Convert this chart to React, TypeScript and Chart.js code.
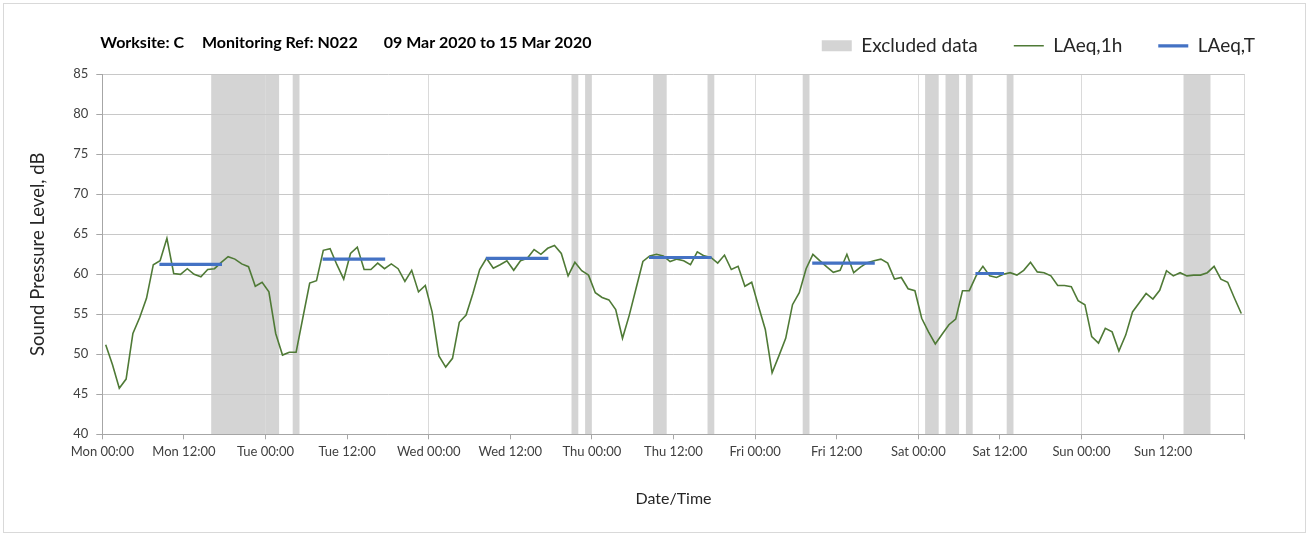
import React, { useEffect, useRef } from 'react';
import { Chart, registerables } from 'chart.js';

Chart.register(...registerables);

// ---- Data ----
const tickLabels = [
  'Mon 00:00', 'Mon 12:00', 'Tue 00:00', 'Tue 12:00', 'Wed 00:00', 'Wed 12:00', 'Thu 00:00',
  'Thu 12:00', 'Fri 00:00', 'Fri 12:00', 'Sat 00:00', 'Sat 12:00', 'Sun 00:00', 'Sun 12:00',
];

// Hourly LAeq,1h values (dB), 24 per day, plotted at the middle of each hour
const monLAeq1h = [51.2, 48.7, 45.75, 46.9, 52.6, 54.6, 57.0, 61.2, 61.7, 64.5, 60.1, 60.0, 60.7, 60.0, 59.7, 60.6, 60.7, 61.5, 62.2, 61.9, 61.3, 60.95, 58.5, 59.0];
const tueLAeq1h = [57.8, 52.6, 49.9, 50.25, 50.25, 54.6, 58.9, 59.2, 63.0, 63.2, 61.2, 59.4, 62.6, 63.4, 60.6, 60.6, 61.4, 60.7, 61.3, 60.7, 59.1, 60.5, 57.8, 58.6];
const wedLAeq1h = [55.3, 49.8, 48.4, 49.5, 54.0, 54.9, 57.6, 60.6, 62.0, 60.75, 61.2, 61.7, 60.5, 61.7, 62.0, 63.1, 62.5, 63.25, 63.6, 62.6, 59.8, 61.5, 60.45, 59.9];
const thuLAeq1h = [57.7, 57.1, 56.8, 55.6, 52.0, 54.9, 58.25, 61.6, 62.3, 62.5, 62.3, 61.6, 61.9, 61.7, 61.2, 62.8, 62.3, 62.1, 61.4, 62.4, 60.6, 61.0, 58.5, 59.0];
const friLAeq1h = [56.0, 53.1, 47.7, 49.8, 52.0, 56.2, 57.7, 60.7, 62.5, 61.7, 60.95, 60.25, 60.5, 62.5, 60.2, 60.9, 61.45, 61.7, 61.9, 61.4, 59.4, 59.6, 58.2, 57.95];
const satLAeq1h = [54.5, 52.8, 51.3, 52.5, 53.7, 54.4, 57.95, 57.95, 59.8, 61.0, 59.8, 59.6, 60.0, 60.2, 59.9, 60.5, 61.5, 60.3, 60.2, 59.8, 58.6, 58.6, 58.45, 56.7];
const sunLAeq1h = [56.2, 52.2, 51.4, 53.25, 52.8, 50.4, 52.4, 55.3, 56.45, 57.6, 56.9, 58.0, 60.45, 59.8, 60.2, 59.8, 59.9, 59.9, 60.2, 61.0, 59.4, 59.0, 57.0, 55.1];

// LAeq,T periods (hours from Mon 00:00) and levels
const lAeqTStart = [8.4, 32.4, 56.4, 80.4, 104.4, 128.4];
const lAeqTEnd = [17.6, 41.6, 65.6, 89.6, 113.6, 132.6];
const lAeqTValues = [61.25, 61.9, 62.0, 62.1, 61.4, 60.1];

// Excluded data periods (hours from Mon 00:00)
const excludedStart = [16, 28, 69, 71, 81, 89, 103, 121, 124, 127, 133, 159];
const excludedEnd = [26, 29, 70, 72, 83, 90, 104, 123, 126, 128, 134, 163];

const titleParts = ['Worksite: C', 'Monitoring Ref: N022', '09 Mar 2020 to 15 Mar 2020'];

const Y_MIN = 40;
const Y_MAX = 85;
const X_MIN = 0;
const X_MAX = 168;

const FONT = 'Lato, "Open Sans", sans-serif';

const titlePlugin = {
  id: 'worksiteTitle',
  afterLayout(chart: any) {
    // lift the legend row so it shares the line with the title
    const lg = chart.legend;
    if (lg) {
      lg.top -= 9;
      lg.bottom -= 9;
    }
  },
  afterDraw(chart: any) {
    const { ctx, chartArea } = chart;
    ctx.save();
    ctx.font = `bold 16px ${FONT}`;
    ctx.fillStyle = '#000000';
    ctx.textBaseline = 'middle';
    ctx.textAlign = 'left';
    const gaps = [18, 26];
    let x = chartArea.left - 2;
    titleParts.forEach((t, i) => {
      ctx.fillText(t, x, 43);
      x += ctx.measureText(t).width + (gaps[i] || 0);
    });
    ctx.restore();
  },
};

export default function App() {
  const canvasRef = useRef<HTMLCanvasElement | null>(null);

  useEffect(() => {
    if (!canvasRef.current) return;
    const lAeq1h = [
      ...monLAeq1h, ...tueLAeq1h, ...wedLAeq1h, ...thuLAeq1h,
      ...friLAeq1h, ...satLAeq1h, ...sunLAeq1h,
    ];
    const hourlyData = lAeq1h.map((v, i) => ({ x: i + 0.5, y: v }));

    const bandData: { x: number; y: number }[] = [];
    excludedStart.forEach((s, i) => {
      const e = excludedEnd[i];
      bandData.push({ x: s, y: Y_MIN }, { x: s, y: Y_MAX }, { x: e, y: Y_MAX }, { x: e, y: Y_MIN });
    });

    const tData: { x: number; y: number | null }[] = [];
    lAeqTStart.forEach((s, i) => {
      tData.push({ x: s, y: lAeqTValues[i] }, { x: lAeqTEnd[i], y: lAeqTValues[i] }, { x: lAeqTEnd[i], y: null });
    });

    const chart = new Chart(canvasRef.current, {
      type: 'line',
      data: {
        datasets: [
          {
            label: 'Excluded data',
            data: bandData,
            borderWidth: 0,
            borderColor: 'rgba(0,0,0,0)',
            backgroundColor: '#d4d4d4',
            fill: 'start',
            pointRadius: 0,
            tension: 0,
            order: 3,
          },
          {
            label: 'LAeq,1h',
            data: hourlyData,
            borderColor: '#4f7a36',
            borderWidth: 1.6,
            pointRadius: 0,
            fill: false,
            tension: 0,
            order: 2,
          },
          {
            label: 'LAeq,T',
            data: tData as any,
            borderColor: '#4472c4',
            borderWidth: 3.2,
            pointRadius: 0,
            fill: false,
            spanGaps: false,
            order: 1,
          },
        ],
      },
      options: {
        responsive: true,
        maintainAspectRatio: false,
        animation: false,
        events: [],
        layout: { padding: { top: 0, left: 0, right: 18, bottom: 0 } },
        plugins: {
          tooltip: { enabled: false },
          filler: { drawTime: 'beforeDraw' } as any,
          legend: {
            position: 'top',
            align: 'end',
            labels: {
              usePointStyle: true,
              pointStyleWidth: 30,
              boxHeight: 11,
              padding: 36,
              color: '#262626',
              font: { family: FONT, size: 19 },
              generateLabels: (c: any) =>
                c.data.datasets.map((ds: any, i: number) => ({
                  text: ds.label,
                  fillStyle: i === 0 ? ds.backgroundColor : 'rgba(0,0,0,0)',
                  strokeStyle: ds.borderColor,
                  lineWidth: i === 0 ? 0 : ds.borderWidth,
                  pointStyle: i === 0 ? 'rect' : 'line',
                  hidden: false,
                  datasetIndex: i,
                  fontColor: '#262626',
                })),
            },
          },
        },
        scales: {
          x: {
            type: 'linear',
            min: X_MIN,
            max: X_MAX,
            ticks: {
              stepSize: 12,
              autoSkip: false,
              maxRotation: 0,
              padding: 5,
              color: '#404040',
              font: { family: FONT, size: 13 },
              callback: (v: any) => tickLabels[Math.round(Number(v) / 12)] ?? '',
            },
            grid: {
              color: (ctx: any) => (ctx.tick && ctx.tick.value % 24 === 0 ? '#dadada' : 'rgba(0,0,0,0)'),
              tickColor: '#a6a6a6',
              tickLength: 5,
              lineWidth: 1,
            },
            border: { color: '#a6a6a6', width: 1 },
            title: {
              display: true,
              text: 'Date/Time',
              color: '#262626',
              font: { family: FONT, size: 16 },
              padding: { top: 0, bottom: 28 },
            },
            afterFit: (s: any) => {
              s.height = 101.7;
              s.paddingRight = 64.3;
            },
          },
          y: {
            type: 'linear',
            min: Y_MIN,
            max: Y_MAX,
            ticks: {
              stepSize: 5,
              padding: 8,
              color: '#404040',
              font: { family: FONT, size: 13 },
            },
            grid: {
              color: '#c8c8c8',
              tickColor: '#a6a6a6',
              tickLength: 6,
              lineWidth: 1,
            },
            border: { color: '#a6a6a6', width: 1 },
            title: {
              display: true,
              text: 'Sound Pressure Level, dB',
              color: '#262626',
              font: { family: FONT, size: 18.5 },
              padding: { top: 27, bottom: 0 },
            },
            afterFit: (s: any) => {
              s.width = 102.3;
              s.paddingTop = 74.3;
            },
          },
        },
      },
      plugins: [titlePlugin],
    });

    const fonts: any = (document as any).fonts;
    if (fonts && fonts.load) {
      Promise.all([fonts.load(`16px Lato`), fonts.load(`bold 16px Lato`)])
        .then(() => chart.update())
        .catch(() => {});
    }

    return () => chart.destroy();
  }, []);

  return (
    <div style={{ position: 'absolute', left: 0, top: 0, width: 1309, height: 536, background: '#ffffff' }}>
      <canvas ref={canvasRef} />
      <div
        style={{
          position: 'absolute',
          left: 3,
          top: 3,
          right: 3,
          bottom: 3,
          border: '1px solid #d9d9d9',
          pointerEvents: 'none',
        }}
      />
    </div>
  );
}
